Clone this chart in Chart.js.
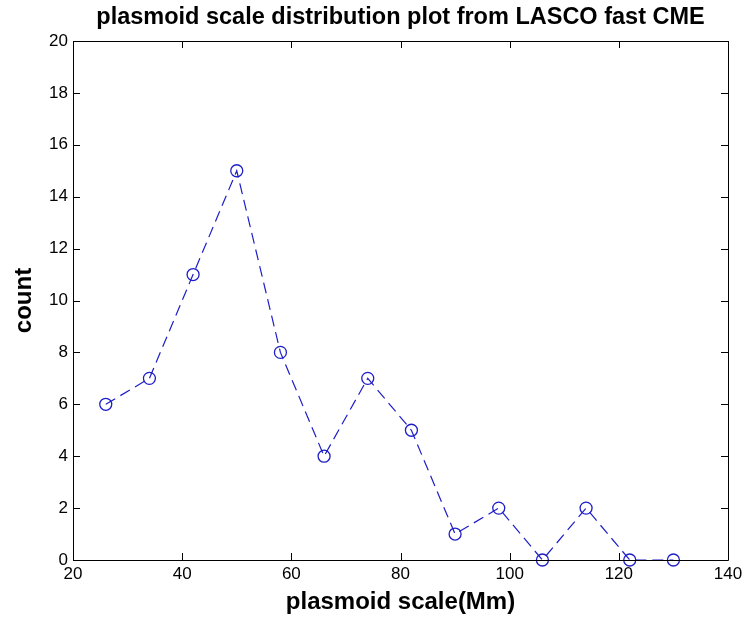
<!DOCTYPE html>
<html>
<head>
<meta charset="utf-8">
<style>
  html, body { margin: 0; padding: 0; background: #fff; }
  #wrap { width: 747px; height: 618px; }
</style>
<script src="https://cdn.jsdelivr.net/npm/chart.js@4.4.0/dist/chart.umd.min.js"></script>
</head>
<body>
<div id="wrap"><canvas id="scaleChart"></canvas></div>
<script>
// plasmoid scale (Mm) and the count in each bin
var scales = [26, 34, 42, 50, 58, 66, 74, 82, 90, 98, 106, 114, 122, 130];
var counts = [6, 7, 11, 15, 8, 4, 7, 5, 1, 2, 0, 2, 0, 0];

var xTicks = [20, 40, 60, 80, 100, 120, 140];
var yTicks = [0, 2, 4, 6, 8, 10, 12, 14, 16, 18, 20];

var titleText = "plasmoid scale distribution plot from LASCO fast CME";

// matlab style box with ticks pointing inward, and title centered over the axes
var matlabBox = {
  id: 'matlabBox',
  afterDraw: function (chart) {
    var ctx = chart.ctx, a = chart.chartArea;
    var x = chart.scales.x, y = chart.scales.y;
    var len = 7;
    ctx.save();
    ctx.strokeStyle = '#000';
    ctx.lineWidth = 1;
    ctx.beginPath();
    ctx.rect(Math.round(a.left) + 0.5, Math.round(a.top) + 0.5,
             Math.round(a.right - a.left), Math.round(a.bottom - a.top));
    xTicks.forEach(function (v) {
      var px = Math.round(x.getPixelForValue(v)) + 0.5;
      ctx.moveTo(px, a.bottom); ctx.lineTo(px, a.bottom - len);
      ctx.moveTo(px, a.top); ctx.lineTo(px, a.top + len);
    });
    yTicks.forEach(function (v) {
      var py = Math.round(y.getPixelForValue(v)) + 0.5;
      ctx.moveTo(a.left, py); ctx.lineTo(a.left + len, py);
      ctx.moveTo(a.right, py); ctx.lineTo(a.right - len, py);
    });
    ctx.stroke();

    ctx.fillStyle = '#000';
    ctx.font = 'bold 23.5px "Liberation Sans", Arial, sans-serif';
    ctx.textAlign = 'center';
    ctx.textBaseline = 'middle';
    ctx.fillText(titleText, (a.left + a.right) / 2, 18);
    ctx.restore();
  }
};

var ctx = document.getElementById('scaleChart');

var chart = new Chart(ctx, {
  type: 'line',
  data: {
    datasets: [{
      data: scales.map(function (s, i) { return {x: s, y: counts[i]}; }),
      borderColor: 'rgb(30,30,200)',
      borderWidth: 1.2,
      borderDash: [11, 6],
      pointStyle: 'circle',
      pointRadius: 6,
      pointBorderWidth: 1.3,
      pointBorderColor: 'rgb(30,30,200)',
      pointBackgroundColor: 'rgba(0,0,0,0)',
      tension: 0,
      clip: false
    }]
  },
  options: {
    responsive: true,
    maintainAspectRatio: false,
    animation: false,
    layout: { padding: { top: 41, right: 19, left: 0, bottom: 0 } },
    plugins: {
      legend: { display: false },
      tooltip: { enabled: false },
      title: { display: false }
    },
    scales: {
      x: {
        type: 'linear',
        min: 20, max: 140,
        afterBuildTicks: function (axis) { axis.ticks = xTicks.map(function (v) { return {value: v}; }); },
        afterFit: function (axis) { axis.height = 58; },
        grid: { display: false, drawTicks: false },
        border: { display: false },
        ticks: {
          color: '#000',
          padding: 4,
          maxRotation: 0,
          font: { family: '"Liberation Sans", Arial, sans-serif', size: 17 }
        },
        title: {
          display: true,
          text: 'plasmoid scale(Mm)',
          color: '#000',
          padding: { top: 0, bottom: 1 },
          font: { family: '"Liberation Sans", Arial, sans-serif', size: 24, weight: 'bold' }
        }
      },
      y: {
        type: 'linear',
        min: 0, max: 20,
        afterBuildTicks: function (axis) { axis.ticks = yTicks.map(function (v) { return {value: v}; }); },
        afterFit: function (axis) { axis.width = 73; },
        grid: { display: false, drawTicks: false },
        border: { display: false },
        ticks: {
          color: '#000',
          padding: 5,
          font: { family: '"Liberation Sans", Arial, sans-serif', size: 17 }
        },
        title: {
          display: true,
          text: 'count',
          color: '#000',
          padding: { top: 10, bottom: 8 },
          font: { family: '"Liberation Sans", Arial, sans-serif', size: 24, weight: 'bold' }
        }
      }
    }
  },
  plugins: [matlabBox]
});
</script>
</body>
</html>
